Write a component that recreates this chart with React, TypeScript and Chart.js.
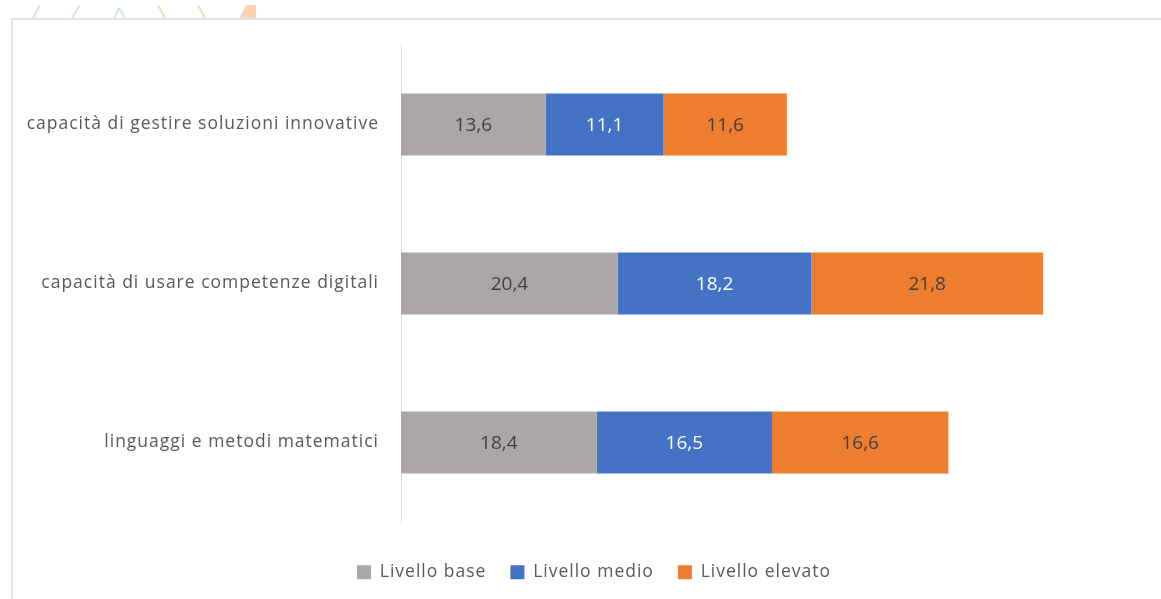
import React, { useEffect, useRef } from "react";
import { Chart, registerables } from "chart.js";

Chart.register(...registerables);

const categories = [
  "capacità di gestire soluzioni innovative",
  "capacità di usare competenze digitali",
  "linguaggi e metodi matematici",
];
const seriesNames = ["Livello base", "Livello medio", "Livello elevato"];
const livelloBase = [13.6, 20.4, 18.4];
const livelloMedio = [11.1, 18.2, 16.5];
const livelloElevato = [11.6, 21.8, 16.6];

const colors = ["#aaa7a6", "#4472c4", "#ed7d31"];
const labelColors = ["#404040", "#ffffff", "#404040"];
const FONT = "'Open Sans', Lato, sans-serif";
const SPACING = "1px";

const spacingPlugin = {
  id: "spacing",
  beforeLayout(chart: any) {
    chart.ctx.letterSpacing = SPACING;
  },
  beforeDraw(chart: any) {
    chart.ctx.letterSpacing = SPACING;
  },
};

const framePlugin = {
  id: "frame",
  beforeDraw(chart: any) {
    const ctx = chart.ctx;
    ctx.save();
    ctx.fillStyle = "#ffffff";
    ctx.fillRect(0, 0, chart.width, chart.height);
    // faint watermark strokes above the frame
    ctx.lineWidth = 2;
    ctx.strokeStyle = "rgba(190,205,230,0.6)";
    [[33, 18, 40, 5], [72, 18, 80, 5], [114, 18, 119, 8], [119, 8, 125, 18]].forEach(
      ([a, b, c, d]) => {
        ctx.beginPath();
        ctx.moveTo(a, b);
        ctx.lineTo(c, d);
        ctx.stroke();
      }
    );
    ctx.strokeStyle = "rgba(245,200,160,0.7)";
    [[158, 5, 165, 18], [198, 5, 205, 18]].forEach(([a, b, c, d]) => {
      ctx.beginPath();
      ctx.moveTo(a, b);
      ctx.lineTo(c, d);
      ctx.stroke();
    });
    ctx.fillStyle = "rgba(248,200,160,0.8)";
    ctx.beginPath();
    ctx.moveTo(240, 18);
    ctx.lineTo(246, 5);
    ctx.lineTo(256, 5);
    ctx.lineTo(256, 18);
    ctx.closePath();
    ctx.fill();
    // frame
    ctx.strokeStyle = "#e2e2e2";
    ctx.lineWidth = 2;
    ctx.strokeRect(12, 19, 1300, 800);
    ctx.restore();
  },
};

const valueLabelPlugin = {
  id: "valueLabels",
  afterDatasetsDraw(chart: any) {
    const ctx = chart.ctx;
    ctx.save();
    ctx.letterSpacing = "0px";
    ctx.font = `19px ${FONT}`;
    ctx.textAlign = "center";
    ctx.textBaseline = "middle";
    chart.data.datasets.forEach((ds: any, i: number) => {
      const meta = chart.getDatasetMeta(i);
      meta.data.forEach((bar: any, j: number) => {
        const v = ds.data[j];
        ctx.fillStyle = labelColors[i];
        ctx.fillText(v.toFixed(1).replace(".", ","), (bar.x + bar.base) / 2, bar.y + 1);
      });
    });
    ctx.restore();
  },
};

export default function App() {
  const ref = useRef<HTMLCanvasElement>(null);
  useEffect(() => {
    if (!ref.current) return;
    const chart = new Chart(ref.current, {
      type: "bar",
      data: {
        labels: categories,
        datasets: [livelloBase, livelloMedio, livelloElevato].map((d, i) => ({
          label: seriesNames[i],
          data: d,
          backgroundColor: colors[i],
          borderWidth: 0,
          barPercentage: 0.39,
          categoryPercentage: 1,
        })),
      },
      options: {
        indexAxis: "y",
        animation: false,
        responsive: false,
        layout: { padding: { top: 45, right: -27, left: 0, bottom: 8 } },
        scales: {
          x: { stacked: true, display: false, min: 0, max: 71.5 },
          y: {
            stacked: true,
            grid: { display: false, drawTicks: false },
            border: { display: true, color: "#d9d9d9", width: 1 },
            ticks: { color: "#595959", font: { family: FONT, size: 17.5 }, padding: 22 },
            afterFit: (s: any) => {
              s.width = 401;
            },
          },
        },
        plugins: {
          legend: {
            position: "bottom",
            title: { display: true, text: "", font: { size: 10 }, padding: 2.75 },
            labels: {
              color: "#595959",
              font: { family: FONT, size: 17.5 },
              boxWidth: 14,
              boxHeight: 14,
              padding: 24,
            },
          },
          tooltip: { enabled: false },
        },
      },
      plugins: [spacingPlugin, framePlugin, valueLabelPlugin],
    } as any);
    return () => chart.destroy();
  }, []);
  return (
    <div style={{ position: "fixed", left: 0, top: 0, width: 1161, height: 599, background: "#fff" }}>
      <canvas ref={ref} width={1161} height={599} style={{ display: "block" }} />
    </div>
  );
}
